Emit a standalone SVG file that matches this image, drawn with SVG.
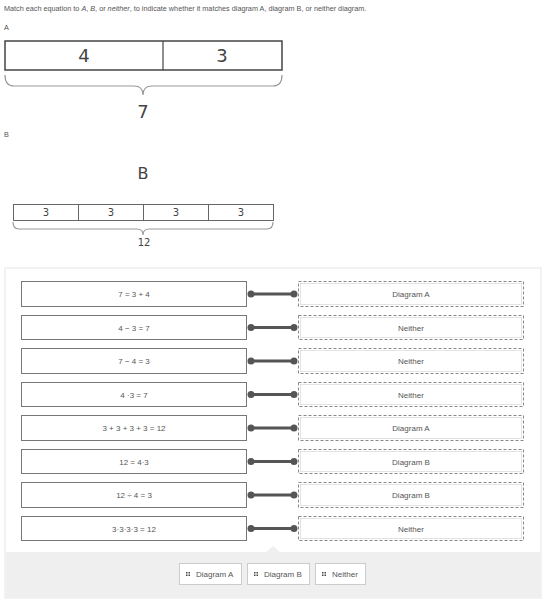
<svg xmlns="http://www.w3.org/2000/svg" width="547" height="603" viewBox="0 0 547 603">
<style>
.t{font-family:"Liberation Sans",Arial,sans-serif;fill:#555;font-size:8px}
.c{text-anchor:middle}
.i{font-size:7.25px}
.d{font-family:"DejaVu Sans",Verdana,sans-serif;fill:#444;text-anchor:middle}
.tape{fill:#fff;stroke:#444;stroke-width:1.5}
.brace{fill:none;stroke:#999;stroke-width:1.2}
.lbox{fill:#fff;stroke:#777;stroke-width:1}
.rbox{fill:#fff;stroke:#888;stroke-width:1;stroke-dasharray:3 2}
.rin{fill:none;stroke:#ddd;stroke-width:0.8}
.btn{fill:#fff;stroke:#ccc;stroke-width:1}
.conn line{stroke:#555;stroke-width:3}
.conn circle{fill:#555}
</style>
<rect width="547" height="603" fill="#fff"/>
<g id="instructions">
<text class="t i" x="4" y="11">Match each equation to  <tspan font-style="italic">A</tspan>, <tspan font-style="italic">B</tspan>, or <tspan font-style="italic">neither</tspan>, to indicate whether it matches diagram A, diagram B, or neither diagram.</text>
<text class="t i" x="4" y="30">A</text>
<text class="t i" x="4" y="137">B</text>
</g>
<g id="diagramA">
<rect class="tape" x="5" y="41" width="277" height="29"/>
<line x1="163" y1="41" x2="163" y2="70" stroke="#444" stroke-width="1.2"/>
<text class="d" x="84" y="62" font-size="18">4</text>
<text class="d" x="222" y="62" font-size="18">3</text>
<path class="brace" d="M5,75 Q5,86 14,86 L134,86 Q143,86 143,95 Q143,86 152,86 L273,86 Q282,86 282,75"/>
<text class="d" x="143" y="118" font-size="18">7</text>
</g>
<g id="diagramB">
<text class="d" x="143" y="179" font-size="16" fill="#333">B</text>
<rect x="13.5" y="204.5" width="260" height="16" fill="#fff" stroke="#666" stroke-width="1"/>
<line x1="78.5" y1="204" x2="78.5" y2="220" stroke="#666"/>
<line x1="143.5" y1="204" x2="143.5" y2="220" stroke="#666"/>
<line x1="208.5" y1="204" x2="208.5" y2="220" stroke="#666"/>
<text class="d" x="46" y="216" font-size="10" fill="#666">3</text>
<text class="d" x="111" y="216" font-size="10" fill="#666">3</text>
<text class="d" x="176" y="216" font-size="10" fill="#666">3</text>
<text class="d" x="241" y="216" font-size="10" fill="#666">3</text>
<path class="brace" d="M13,222 Q13,229 19,229 L137,229 Q143,229 143,235 Q143,229 149,229 L267,229 Q273,229 273,222" stroke-width="1"/>
<text class="d" x="144" y="246" font-size="10" fill="#666">12</text>
</g>
<g id="panel">
<rect x="5" y="268" width="536" height="330" fill="#fff" stroke="#e6e6e6" stroke-width="1"/>
<path d="M5.5,552 L266,552 L273,546 L280,552 L540.5,552 L540.5,597.5 L5.5,597.5 Z" fill="#efefef"/>
</g>
<g id="left-items">
<g id="l1"><rect class="lbox" x="21.5" y="281.5" width="225" height="25"/><text class="t c" x="134" y="297">7  = 3 + 4</text></g>
<g id="l2"><rect class="lbox" x="21.5" y="315.5" width="225" height="24"/><text class="t c" x="134" y="330.5">4 − 3 = 7</text></g>
<g id="l3"><rect class="lbox" x="21.5" y="348.5" width="225" height="25"/><text class="t c" x="134" y="364">7 − 4 = 3</text></g>
<g id="l4"><rect class="lbox" x="21.5" y="382.5" width="225" height="24"/><text class="t c" x="134" y="397.5">4  ·3 = 7</text></g>
<g id="l5"><rect class="lbox" x="21.5" y="415.5" width="225" height="25"/><text class="t c" x="134" y="431">3 + 3 + 3 + 3 = 12</text></g>
<g id="l6"><rect class="lbox" x="21.5" y="449.5" width="225" height="24"/><text class="t c" x="134" y="464.5">12 = 4·3</text></g>
<g id="l7"><rect class="lbox" x="21.5" y="482.5" width="225" height="25"/><text class="t c" x="134" y="498">12 ÷ 4 = 3</text></g>
<g id="l8"><rect class="lbox" x="21.5" y="516.5" width="225" height="24"/><text class="t c" x="134" y="531.5">3·3·3·3 = 12</text></g>
</g>
<g id="right-items">
<g id="r1"><rect class="rbox" x="298.5" y="281.5" width="225" height="25"/><rect class="rin" x="300.5" y="283.5" width="221" height="21"/><text class="t c" x="411" y="297">Diagram A</text></g>
<g id="r2"><rect class="rbox" x="298.5" y="315.5" width="225" height="24"/><rect class="rin" x="300.5" y="317.5" width="221" height="20"/><text class="t c" x="411" y="330.5">Neither</text></g>
<g id="r3"><rect class="rbox" x="298.5" y="348.5" width="225" height="25"/><rect class="rin" x="300.5" y="350.5" width="221" height="21"/><text class="t c" x="411" y="364">Neither</text></g>
<g id="r4"><rect class="rbox" x="298.5" y="382.5" width="225" height="24"/><rect class="rin" x="300.5" y="384.5" width="221" height="20"/><text class="t c" x="411" y="397.5">Neither</text></g>
<g id="r5"><rect class="rbox" x="298.5" y="415.5" width="225" height="25"/><rect class="rin" x="300.5" y="417.5" width="221" height="21"/><text class="t c" x="411" y="431">Diagram A</text></g>
<g id="r6"><rect class="rbox" x="298.5" y="449.5" width="225" height="24"/><rect class="rin" x="300.5" y="451.5" width="221" height="20"/><text class="t c" x="411" y="464.5">Diagram B</text></g>
<g id="r7"><rect class="rbox" x="298.5" y="482.5" width="225" height="25"/><rect class="rin" x="300.5" y="484.5" width="221" height="21"/><text class="t c" x="411" y="498">Diagram B</text></g>
<g id="r8"><rect class="rbox" x="298.5" y="516.5" width="225" height="24"/><rect class="rin" x="300.5" y="518.5" width="221" height="20"/><text class="t c" x="411" y="531.5">Neither</text></g>
</g>
<g id="connectors" class="conn">
<line x1="251" y1="294" x2="294" y2="294"/><circle cx="251" cy="294" r="3.5"/><circle cx="294" cy="294" r="3.5"/>
<line x1="251" y1="327.5" x2="294" y2="327.5"/><circle cx="251" cy="327.5" r="3.5"/><circle cx="294" cy="327.5" r="3.5"/>
<line x1="251" y1="361" x2="294" y2="361"/><circle cx="251" cy="361" r="3.5"/><circle cx="294" cy="361" r="3.5"/>
<line x1="251" y1="394.5" x2="294" y2="394.5"/><circle cx="251" cy="394.5" r="3.5"/><circle cx="294" cy="394.5" r="3.5"/>
<line x1="251" y1="428" x2="294" y2="428"/><circle cx="251" cy="428" r="3.5"/><circle cx="294" cy="428" r="3.5"/>
<line x1="251" y1="461.5" x2="294" y2="461.5"/><circle cx="251" cy="461.5" r="3.5"/><circle cx="294" cy="461.5" r="3.5"/>
<line x1="251" y1="495" x2="294" y2="495"/><circle cx="251" cy="495" r="3.5"/><circle cx="294" cy="495" r="3.5"/>
<line x1="251" y1="528.5" x2="294" y2="528.5"/><circle cx="251" cy="528.5" r="3.5"/><circle cx="294" cy="528.5" r="3.5"/>
</g>
<g id="choices">
<defs><g id="grip" fill="#444"><rect x="0" y="0" width="1.5" height="1.5"/><rect x="2.5" y="0" width="1.5" height="1.5"/><rect x="0" y="2.5" width="1.5" height="1.5"/><rect x="2.5" y="2.5" width="1.5" height="1.5"/></g></defs>
<g id="choiceA"><rect class="btn" x="179.5" y="563.5" width="62" height="21"/><use href="#grip" x="186" y="572"/><text class="t" x="196" y="577">Diagram A</text></g>
<g id="choiceB"><rect class="btn" x="247.5" y="563.5" width="62" height="21"/><use href="#grip" x="254" y="572"/><text class="t" x="264" y="577">Diagram B</text></g>
<g id="choiceN"><rect class="btn" x="315.5" y="563.5" width="50" height="21"/><use href="#grip" x="322" y="572"/><text class="t" x="332" y="577">Neither</text></g>
</g>
</svg>
